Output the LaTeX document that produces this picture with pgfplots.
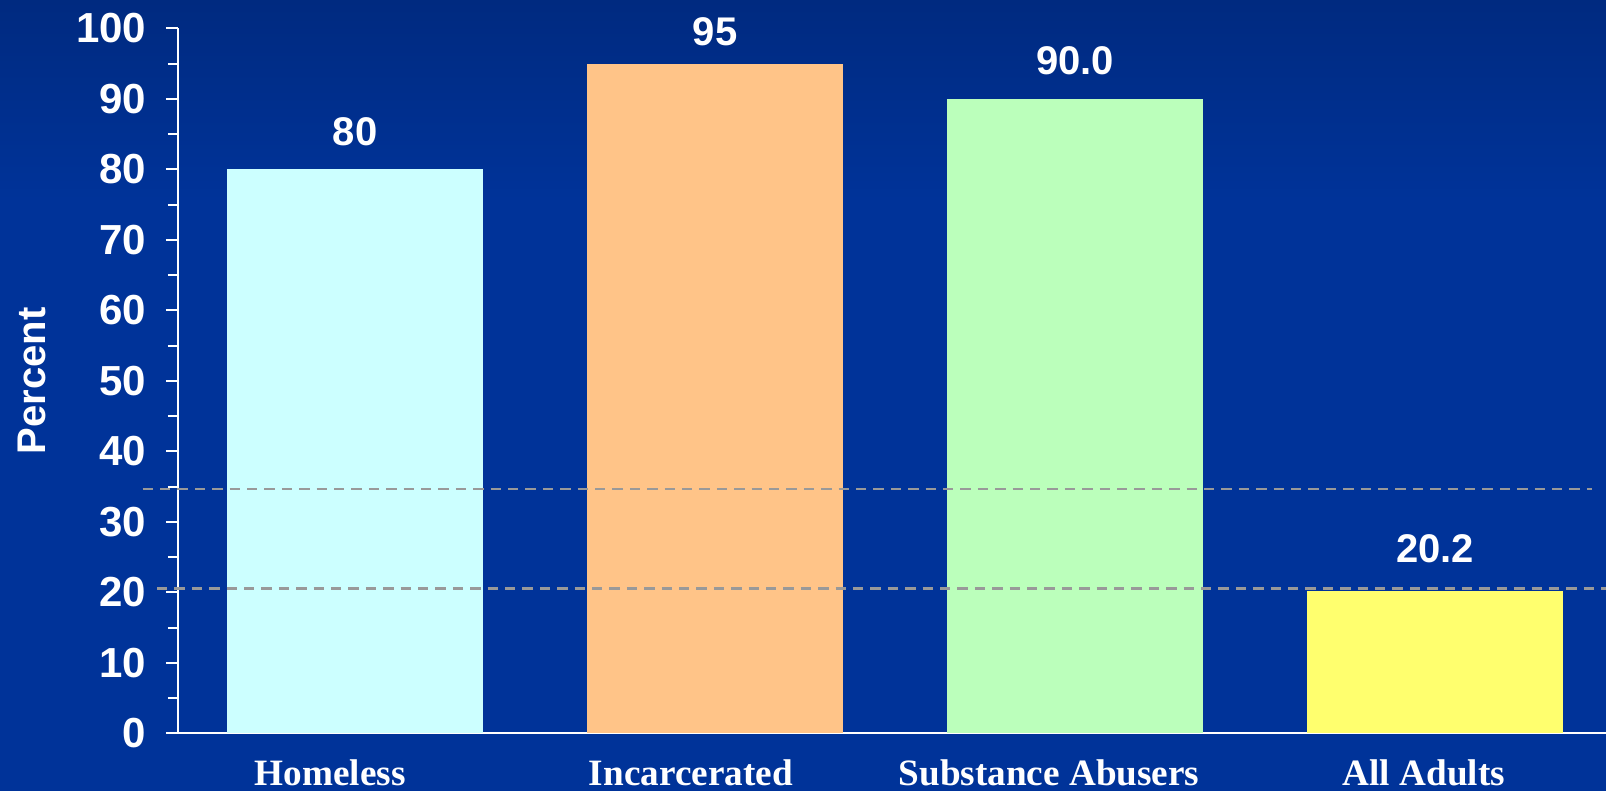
\documentclass[border=0pt]{standalone}
\usepackage{fontspec}
\setmainfont{Liberation Serif}
\setsansfont{Liberation Sans}
\usepackage{pgfplots}
\pgfplotsset{compat=1.18}
\definecolor{bgmain}{HTML}{003399}
\definecolor{bgtop}{HTML}{002A80}
\definecolor{cHome}{HTML}{CCFFFF}
\definecolor{cInc}{HTML}{FFC488}
\definecolor{cSub}{HTML}{BBFFBB}
\definecolor{cAll}{HTML}{FFFF6E}
\definecolor{dashgray}{HTML}{999999}
\begin{document}
\begin{tikzpicture}
\fill[bgmain] (-89bp,-28.85bp) rectangle (714bp,366.65bp);
\shade[top color=bgtop, bottom color=bgmain] (-89bp,266.65bp) rectangle (714bp,366.65bp);
\begin{axis}[
  scale only axis,
  width=714bp, height=352.5bp,
  xmin=-0.4917, xmax=3.475,
  ymin=0, ymax=100,
  enlargelimits=false,
  clip=false,
  axis x line=bottom, axis y line=left,
  axis line style={-, white, line width=1bp},
  ytick={0,10,...,100},
  minor y tick num=1,
  tick align=outside,
  major tick length=6bp,
  minor tick length=5bp,
  every tick/.style={white, line width=1bp},
  xtick={-0.069,0.933,1.928,2.969},
  xticklabels={Homeless,Incarcerated,Substance Abusers,All Adults},
  xtick style={draw=none},
  /pgf/number format/assume math mode=true,
  yticklabel style={font=\sffamily\bfseries\fontsize{21bp}{24bp}\selectfont, text=white, anchor=east, inner sep=0pt, xshift=-9.65bp},
  xticklabel style={font=\rmfamily\bfseries\fontsize{18.6bp}{21bp}\selectfont, text=white, anchor=base, inner sep=0pt, yshift=-20bp},
  bar width=128bp,
  nodes near coords={\pgfplotspointmeta},
  point meta=explicit symbolic,
  nodes near coords style={font=\sffamily\bfseries\fontsize{20bp}{24bp}\selectfont, text=white, anchor=base, inner sep=0pt, yshift=12bp},
]
\addplot[ybar, bar shift=0pt, fill=cHome, draw=none] coordinates {(0,80) [80]};
\addplot[ybar, bar shift=0pt, fill=cInc, draw=none, nodes near coords style={yshift=-3bp}] coordinates {(1,95) [95]};
\addplot[ybar, bar shift=0pt, fill=cSub, draw=none] coordinates {(2,90.0) [90.0]};
\addplot[ybar, bar shift=0pt, fill=cAll, draw=none, nodes near coords style={yshift=2bp}] coordinates {(3,20.2) [20.2]};
\draw[dashgray, line width=1.4bp, dash pattern=on 5.2bp off 3.5bp] (axis cs:-0.590,34.65) -- (axis cs:3.435,34.65);
\draw[dashgray, line width=1.4bp, dash pattern=on 5.2bp off 3.5bp] (axis cs:-0.550,20.57) -- (axis cs:3.475,20.57);
\node[rotate=90, inner sep=0pt, text=white, font=\sffamily\bfseries\fontsize{20bp}{24bp}\selectfont] at ([xshift=-73.25bp]rel axis cs:0,0.5) {Percent};
\end{axis}
\pgfresetboundingbox
\path[use as bounding box] (-89bp,-28.85bp) rectangle (714bp,366.65bp);
\end{tikzpicture}
\end{document}
